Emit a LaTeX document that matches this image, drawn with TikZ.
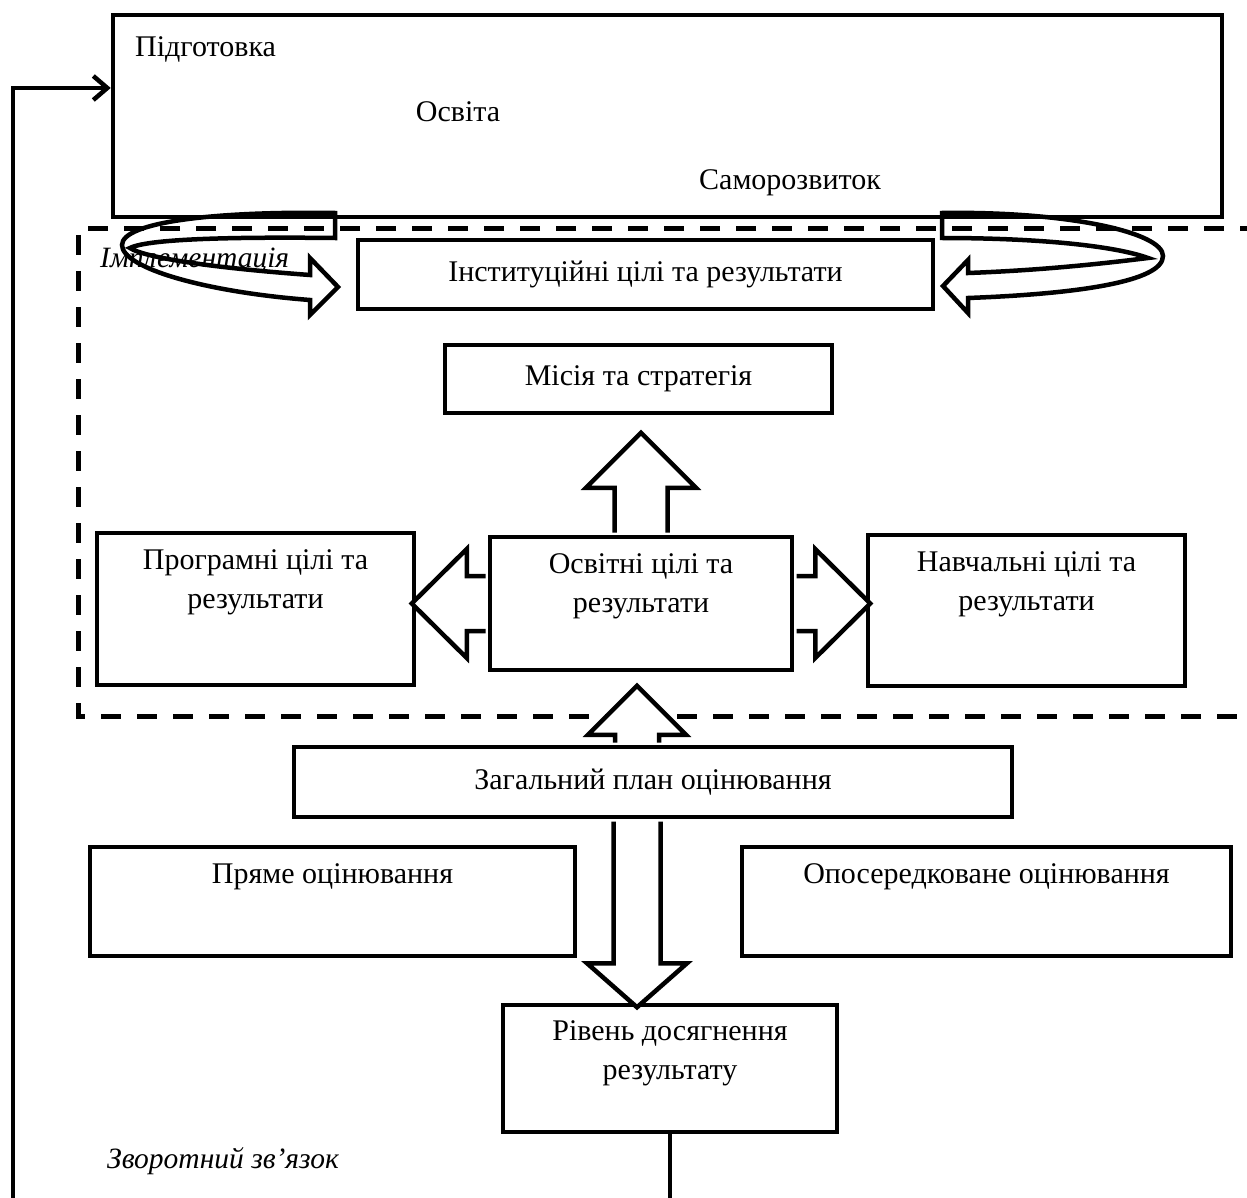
\documentclass[tikz,border=0pt]{standalone}
\usepackage{fontspec}
\setmainfont{Liberation Serif}
\usetikzlibrary{arrows.meta}

\tikzset{
  box/.style={draw,line width=4.5pt,inner sep=0pt},
  txt/.style={font=\fontsize{30}{39}\selectfont,align=center,inner sep=0pt},
  itxt/.style={font=\fontsize{29.5}{39}\selectfont\itshape,inner sep=0pt},
  intop/.style={txt,anchor=north,yshift=-19pt},
  fat/.style={draw,fill=white,line width=4.5pt,line join=miter},
  loopband/.style={draw,line width=4.5pt},
  frame/.style={line width=5pt,dash pattern=on 20pt off 16pt},
}

% fat arrow: start, angle, length, half shaft, half head, head length
\newcommand{\fatarrow}[6]{%
  \path[fat,shift={(#1)},rotate=#2]
    (2.25,-#4) -- (#3-#6,-#4) -- (#3-#6,-#5) -- (#3,0) -- (#3-#6,#5) -- (#3-#6,#4) -- (2.25,#4);}

\begin{document}
\begin{tikzpicture}[x=1pt,y=-1pt]
\useasboundingbox (0,0) rectangle (1247,1198);

% implementation frame
\draw[frame] (1260,229) -- (78,229) -- (78,716) -- (1260,716);

% boxes
\node[box,minimum width=1109,minimum height=202] (prep) at (667.5,116) {};
\node[txt,anchor=base west] (tprep) at (135,57) {Підготовка};
\node[txt,anchor=base] (tosvita) at (458,122) {Освіта};
\node[txt,anchor=base] (tsamo) at (790,190) {Саморозвиток};
\node[itxt,anchor=base west] (timpl) at (100,268) {Імплементація};

\node[box,txt,minimum width=575,minimum height=69] (inst) at (645.5,274.5) {Інституційні цілі та результати};
\node[box,txt,minimum width=387,minimum height=68] (mis) at (638.5,379) {Місія та стратегія};

\node[box,minimum width=317,minimum height=152] (prog) at (255.5,609) {};
\node[intop] (tprog) at (prog.north) {Програмні цілі та\\результати};
\node[box,minimum width=302,minimum height=133] (osv) at (641,603.5) {};
\node[intop] (tosv) at (osv.north) {Освітні цілі та\\результати};
\node[box,minimum width=317,minimum height=151] (navch) at (1026.5,610.5) {};
\node[intop] (tnavch) at (navch.north) {Навчальні цілі та\\результати};

\node[box,txt,minimum width=718,minimum height=70] (plan) at (653,782) {Загальний план оцінювання};
\node[box,minimum width=485,minimum height=109] (pryame) at (332.5,901.5) {};
\node[intop] (tpryame) at (pryame.north) {Пряме оцінювання};
\node[box,minimum width=489,minimum height=109] (oposer) at (986.5,901.5) {};
\node[intop] (toposer) at (oposer.north) {Опосередковане оцінювання};

\node[box,minimum width=334,minimum height=127] (riven) at (670,1068.5) {};
\node[intop,yshift=1pt] (triven) at (riven.north) {Рівень досягнення\\результату};
\node[itxt,anchor=base west] (tzv) at (107,1168) {Зворотний зв’язок};

% fat arrows
\coordinate (axis) at (637,0);
\fatarrow{osv.north}{90}{102}{26.5}{55}{55}
\fatarrow{osv.west}{180}{76}{27.5}{54.5}{55}
\fatarrow{osv.east}{0}{76}{27.5}{54.5}{55}
\fatarrow{plan.north -| axis}{90}{59}{22}{49}{49}
\fatarrow{plan.south -| axis}{-90}{188}{23.5}{50}{44}

% curved arrows
\draw[loopband] (335,213) .. controls (215,211) and (122,222) .. (122,245)
  .. controls (122,268) and (205,292) .. (310,300) -- (310,315) -- (338,287) -- (310,258) -- (310,275)
  .. controls (215,268) and (145,258) .. (130,248)
  .. controls (150,238) and (245,237) .. (335,238) -- cycle;
\draw[loopband] (942,213) .. controls (1065,211) and (1163,232) .. (1163,256)
  .. controls (1163,282) and (1075,294) .. (968,298) -- (968,313) -- (943,286) -- (968,260) -- (968,273)
  .. controls (1050,270) and (1115,262) .. (1148,258)
  .. controls (1115,246) and (1040,238) .. (942,238) -- cycle;

% feedback
\coordinate (fbtop) at (13,88);
\coordinate (fbbot) at (13,1230);
\draw[line width=4.5pt,line join=miter,-{Straight Barb[length=14pt,width=24pt]}]
  (riven.south) |- (fbbot) -- (fbtop) -- (prep.west |- fbtop);
\end{tikzpicture}
\end{document}
